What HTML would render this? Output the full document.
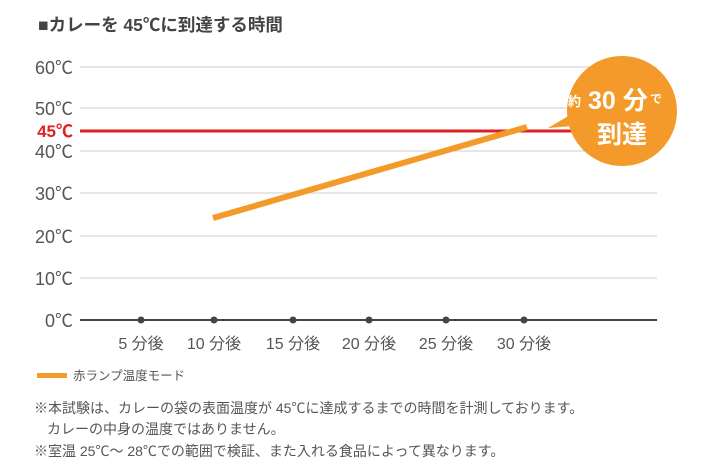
<!DOCTYPE html>
<html><head><meta charset="utf-8"><style>
body{margin:0;background:#fff;}
svg text{font-family:"Liberation Sans","Noto Sans CJK JP",sans-serif;}
</style></head><body>
<svg width="712" height="463" viewBox="0 0 712 463" xmlns="http://www.w3.org/2000/svg">
<text x="38" y="31" font-size="17.5" font-weight="bold" fill="#444">■カレーを 45℃に到達する時間</text>
<g stroke="#ccc" stroke-width="1">
<line x1="80" y1="67" x2="657" y2="67"/><line x1="80" y1="108" x2="657" y2="108"/>
<line x1="80" y1="151" x2="657" y2="151"/><line x1="80" y1="193" x2="657" y2="193"/>
<line x1="80" y1="236" x2="657" y2="236"/><line x1="80" y1="278" x2="657" y2="278"/>
</g>
<g font-size="18" fill="#555" text-anchor="end">
<text x="73" y="74">60℃</text><text x="73" y="115">50℃</text><text x="73" y="158">40℃</text>
<text x="73" y="200">30℃</text><text x="73" y="243">20℃</text><text x="73" y="285">10℃</text>
<text x="73" y="327">0℃</text>
</g>
<text x="73" y="137" font-size="17" font-weight="bold" fill="#e02020" text-anchor="end">45℃</text>
<line x1="80" y1="131" x2="620" y2="131" stroke="#e02020" stroke-width="3"/>
<line x1="213" y1="218" x2="527" y2="127" stroke="#f39a2a" stroke-width="6"/>
<path d="M548 128 L575 112 L585 125 Z" fill="#f39a2a"/>
<circle cx="622" cy="111" r="55" fill="#f39a2a"/>
<text x="568" y="106" font-size="13" font-weight="bold" fill="#fff">約</text>
<text x="588" y="109" font-size="25" font-weight="bold" fill="#fff">30 分</text>
<text x="650" y="103" font-size="12" font-weight="bold" fill="#fff">で</text>
<text x="622" y="143" font-size="25" font-weight="bold" fill="#fff" text-anchor="middle">到達</text>
<line x1="80" y1="320" x2="657" y2="320" stroke="#444" stroke-width="2"/>
<g fill="#444"><circle cx="141" cy="320" r="3.5"/><circle cx="214" cy="320" r="3.5"/><circle cx="293" cy="320" r="3.5"/><circle cx="369" cy="320" r="3.5"/><circle cx="446" cy="320" r="3.5"/><circle cx="524" cy="320" r="3.5"/></g>
<g font-size="16" fill="#555" text-anchor="middle">
<text x="141" y="349">5 分後</text><text x="214" y="349">10 分後</text><text x="293" y="349">15 分後</text>
<text x="369" y="349">20 分後</text><text x="446" y="349">25 分後</text><text x="524" y="349">30 分後</text>
</g>
<rect x="37" y="373" width="30" height="5" fill="#f39a2a"/>
<text x="73" y="380" font-size="12.5" fill="#555">赤ランプ温度モード</text>
<g font-size="14" fill="#555">
<text x="34" y="413">※本試験は、カレーの袋の表面温度が 45℃に達成するまでの時間を計測しております。</text>
<text x="47" y="434">カレーの中身の温度ではありません。</text>
<text x="34" y="456">※室温 25℃～ 28℃での範囲で検証、また入れる食品によって異なります。</text>
</g>
</svg>
</body></html>
